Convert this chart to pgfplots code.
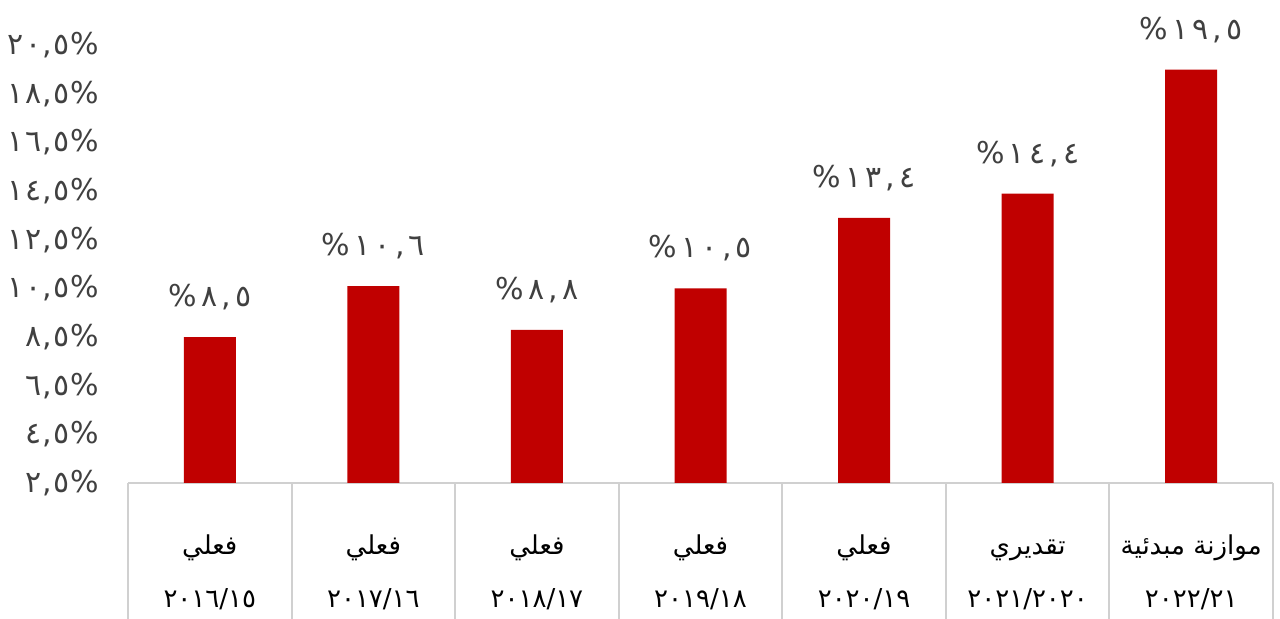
\documentclass[border=0pt]{standalone}
\usepackage{fontspec}
\usepackage{pgfplots}
\usepackage{pgfplotstable}
\pgfplotsset{compat=1.18}
\TeXXeTstate=1
\newfontfamily\arabicfont[Script=Arabic]{DejaVu Sans}
\newfontfamily\tickfont[Script=Arabic, LetterSpace=4]{DejaVu Sans}
\newfontfamily\valfont[Script=Arabic, LetterSpace=14]{DejaVu Sans}
\definecolor{barred}{HTML}{C00000}
\definecolor{txtgray}{HTML}{404040}
\definecolor{linegray}{HTML}{D0D0D0}
\newcommand{\fr}{\rule{0pt}{10.5pt}}

\pgfplotstableread{
x y lab
0 8.5 ٨,٥
1 10.6 ١٠,٦
2 8.8 ٨,٨
3 10.5 ١٠,٥
4 13.4 ١٣,٤
5 14.4 ١٤,٤
6 19.5 ١٩,٥
}\datatable

\begin{document}
\begin{tikzpicture}
\useasboundingbox (0,0) rectangle (640pt,309.5pt);
\begin{axis}[
  at={(64pt,68pt)}, anchor=south west,
  width=572.5pt, height=231pt, scale only axis,
  xmin=-0.5, xmax=6.5, ymin=2.5, ymax=21.5,
  clip mode=individual,
  axis x line*=bottom, axis y line*=left,
  y axis line style={draw=none},
  x axis line style={linegray, line width=1pt, -},
  ytick={2.5,4.5,...,20.5},
  yticklabels={{\%٢,٥},{\%٤,٥},{\%٦,٥},{\%٨,٥},{\%١٠,٥},{\%١٢,٥},{\%١٤,٥},{\%١٦,٥},{\%١٨,٥},{\%٢٠,٥}},
  major tick length=0pt,
  yticklabel style={font=\tickfont\fontsize{15}{17}\selectfont, text=txtgray, xshift=-11pt},
  xtick={0,...,6},
  xticklabels={
    {\fr\beginR فعلي\endR\\٢٠١٦/١٥},
    {\fr\beginR فعلي\endR\\٢٠١٧/١٦},
    {\fr\beginR فعلي\endR\\٢٠١٨/١٧},
    {\fr\beginR فعلي\endR\\٢٠١٩/١٨},
    {\fr\beginR فعلي\endR\\٢٠٢٠/١٩},
    {\fr\beginR تقديري\endR\\٢٠٢١/٢٠٢٠},
    {\fr\beginR موازنة مبدئية\endR\\٢٠٢٢/٢١}},
  xticklabel style={align=center, font=\arabicfont\fontsize{13}{26.5}\selectfont, text=black, yshift=-21.5pt},
]
\addplot[ybar, bar width=26pt, fill=barred, draw=none,
  point meta=explicit symbolic,
  nodes near coords={\pgfplotspointmeta\%},
  every node near coord/.append style={font=\valfont\fontsize{15}{17}\selectfont, text=txtgray, yshift=10pt}]
  table[x=x, y=y, meta=lab]{\datatable};
\foreach \s in {-0.5,0.5,1.5,2.5,3.5,4.5,5.5,6.5}{
  \edef\temp{\noexpand\draw[linegray, line width=1pt] (axis cs:\s,2.5) -- ([yshift=-68pt]axis cs:\s,2.5);}
  \temp
}
\end{axis}
\end{tikzpicture}
\end{document}
